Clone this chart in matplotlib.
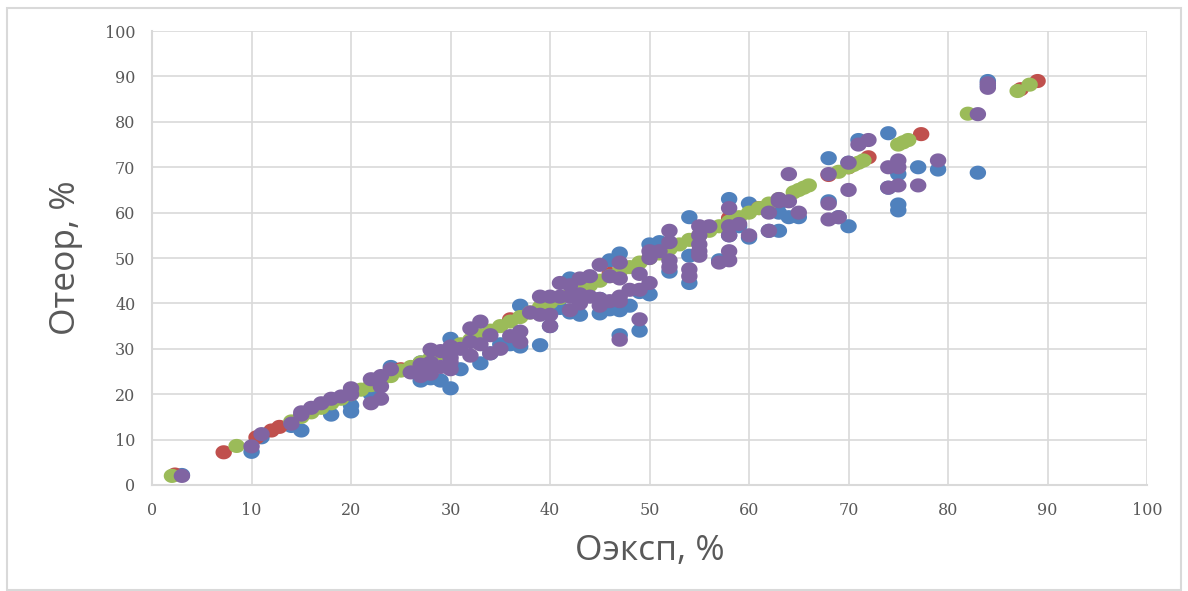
import matplotlib
matplotlib.use('Agg')
import matplotlib.pyplot as plt
import numpy as np
from matplotlib.path import Path
from matplotlib.patches import Rectangle

# серия 1 (синяя)
blue_x = [3, 10, 11, 14, 15, 18, 20, 20, 22, 24, 27, 27, 28, 29, 30, 30, 30, 31, 33, 34,
          35, 36, 37, 37, 39, 40, 40, 41, 42, 42, 43, 44, 45, 45, 46, 46, 47, 47, 47, 48,
          49, 49, 50, 50, 51, 52, 54, 54, 54, 57, 58, 58, 59, 60, 60, 62, 63, 63, 63, 64,
          65, 68, 68, 69, 70, 70, 71, 74, 74, 75, 75, 75, 77, 79, 83, 84, 84]
blue_y = [2.2, 7.3, 10.5, 13, 12, 15.5, 16.2, 17.5, 20, 26, 23, 27, 23.5, 23, 21.3, 32.2, 26, 25.5, 26.8, 29,
          31, 31, 30.5, 39.5, 30.8, 35, 40, 39, 45.5, 38, 37.5, 44.5, 37.8, 41, 38.7, 49.5, 51, 33, 38.5, 39.5,
          34, 42.5, 42, 53, 53.5, 47, 59, 44.5, 50.5, 49.5, 63, 55, 57, 62, 54.5, 56, 62, 56, 60, 59,
          59, 72, 62.5, 59, 57, 71, 76, 77.5, 65.5, 61.8, 60.5, 68.5, 70, 69.5, 68.8, 89, 88]

# серия 2 (красная)
red_x = [2.3, 7.2, 10.5, 12, 12.8, 25, 36, 46, 58, 61, 68, 70, 72, 77.3, 87.3, 89]
red_y = [2.3, 7.2, 10.5, 12, 12.8, 25.5, 36.5, 46.5, 58.8, 61, 68.3, 70, 72.2, 77.3, 87.2, 89]

# серия 3 (зелёная)
green_x = [2, 8.5, 14, 15, 16, 17, 18, 19, 20, 21, 22, 23, 24, 25, 26, 27, 28, 29, 30, 31,
           32, 33, 34, 35, 36, 37, 38, 39, 40, 41, 42, 43, 44, 45, 46, 47, 48, 49, 50, 51,
           52, 53, 54, 55, 56, 57, 58, 59, 60, 61, 62, 63, 64.5, 65, 65.5, 66, 69, 70, 70.5, 71,
           71.5, 75, 75.5, 76, 82, 87, 88.2]
green_y = [2, 8.6, 14, 15, 16, 17, 18, 19, 20, 21, 22, 23, 24, 25.2, 26, 27, 28, 29, 30, 31,
           32, 33, 34, 35, 36, 37, 38, 39.2, 40.2, 41.2, 42, 43, 44, 45, 46, 47, 48, 49, 50, 51,
           52, 53, 54, 55, 56, 57, 58, 59, 60, 61, 62, 63, 64.5, 65, 65.5, 66, 69, 70, 70.5, 71,
           71.5, 75, 75.5, 76, 81.8, 86.8, 88.2]

# серия 4 (фиолетовая)
purple_x = [3, 10, 11, 14, 15, 15, 16, 17, 18, 19, 20, 20, 22, 22, 23, 23, 23, 24, 26, 27,
            27, 28, 28, 28, 29, 29, 30, 30, 30, 30, 31, 32, 32, 32, 33, 33, 34, 34, 35, 36,
            37, 37, 38, 39, 39, 40, 40, 40, 41, 41, 42, 42, 42, 43, 43, 43, 44, 44, 45, 45,
            45, 46, 46, 47, 47, 47, 47, 47, 48, 49, 49, 49, 50, 50, 50, 51, 52, 52, 52, 52,
            54, 54, 55, 55, 55, 55, 55, 56, 57, 58, 58, 58, 58, 58, 59, 60, 62, 62, 63, 63,
            64, 64, 65, 68, 68, 68, 69, 70, 70, 71, 72, 74, 74, 75, 75, 75, 77, 79, 83, 84, 84]
purple_y = [2, 8.5, 11.2, 13.5, 15.5, 16, 17, 18, 19, 19.5, 21.3, 20, 23.3, 18, 24, 21.7, 19, 25.5, 24.8, 26.5,
            24, 29.8, 27, 24.5, 29.5, 26, 30.5, 28, 25.5, 27, 30, 34.5, 28.5, 31.5, 36, 31, 33, 29, 30, 32.8,
            33.8, 31.5, 38, 41.5, 37.5, 37.5, 35, 41.5, 44.5, 41.5, 44, 41.5, 38.5, 45.5, 42, 40, 46, 41.5, 48.5, 41,
            39.5, 40.5, 46, 49, 45.5, 41.5, 40.5, 32, 43, 46.5, 43, 36.5, 50, 51.5, 44.5, 51.5, 56, 53.5, 48, 49.5,
            47.5, 46, 57, 55, 53, 51.5, 50.5, 57, 49, 61, 57, 55, 51.5, 49.5, 57.5, 55, 60, 56, 63, 62.5,
            68.5, 62.5, 60, 68.5, 62, 58.5, 59, 65, 71, 75, 76, 70, 65.5, 71.5, 70, 66, 66, 71.5, 81.7, 87.5, 88.5]

series = [
    (blue_x, blue_y, '#4F81BD'),
    (red_x, red_y, '#C0504D'),
    (green_x, green_y, '#9BBB59'),
    (purple_x, purple_y, '#8064A2'),
]

# слегка сплюснутый кружок, как в Excel
t = np.linspace(0, 2 * np.pi, 60)
ellipse = Path(np.column_stack([np.cos(t), 0.86 * np.sin(t)]), closed=True)

label_font = ['Open Sans', 'DejaVu Sans']

fig = plt.figure(figsize=(11.88, 5.91), dpi=100)
fig.patches.append(Rectangle((0.006, 0.002), 0.988, 0.984, transform=fig.transFigure,
                             fill=False, edgecolor='#D9D9D9', linewidth=1.5))
ax = fig.add_axes([0.128, 0.1794, 0.8375, 0.768])

for xs, ys, color in series:
    ax.scatter(xs, ys, s=140, marker=ellipse, color=color, edgecolors='none', zorder=3)

ax.set_xlim(0, 100)
ax.set_ylim(0, 100)
ax.set_xticks(range(0, 101, 10))
ax.set_yticks(range(0, 101, 10))
ax.grid(True, color='#D9D9D9', linewidth=1.2, zorder=0)
ax.set_axisbelow(True)
for side in ['top', 'right']:
    ax.spines[side].set_visible(False)
for side in ['left', 'bottom']:
    ax.spines[side].set_color('#D9D9D9')
    ax.spines[side].set_linewidth(1.5)
ax.tick_params(length=0, pad=12, labelsize=11.5, labelcolor='#595959')
for lbl in ax.get_xticklabels() + ax.get_yticklabels():
    lbl.set_family(['DejaVu Serif'])

ax.set_xlabel('Оэксп, %', fontsize=25.5, color='#595959', family=label_font, labelpad=11)
ax.set_ylabel('Отеор, %', fontsize=25.5, color='#595959', family=label_font, labelpad=16)

plt.savefig('out.png', dpi=100)
plt.close()
